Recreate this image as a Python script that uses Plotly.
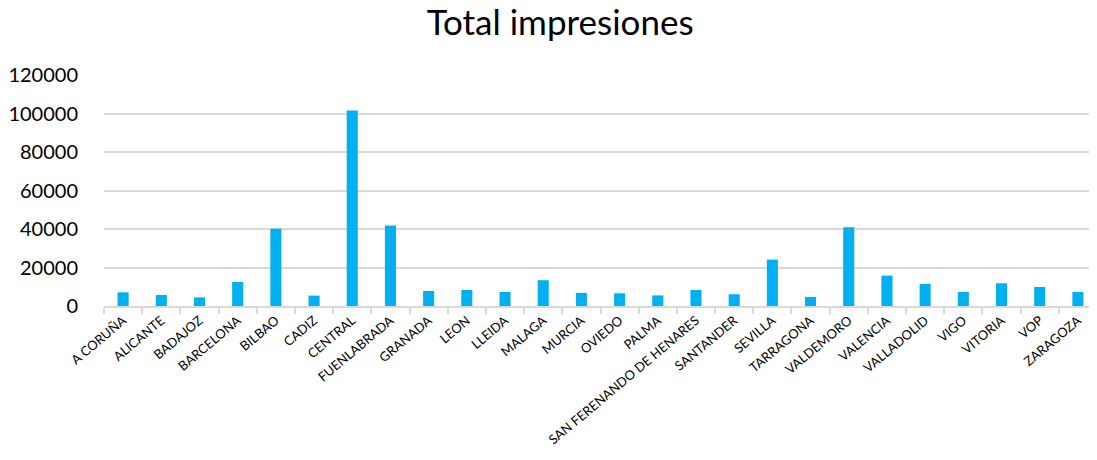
import plotly.graph_objects as go

categories = ["A CORUÑA", "ALICANTE", "BADAJOZ", "BARCELONA", "BILBAO", "CADIZ", "CENTRAL",
              "FUENLABRADA", "GRANADA", "LEON", "LLEIDA", "MALAGA", "MURCIA", "OVIEDO", "PALMA",
              "SAN FERENANDO DE HENARES", "SANTANDER", "SEVILLA", "TARRAGONA", "VALDEMORO",
              "VALENCIA", "VALLADOLID", "VIGO", "VITORIA", "VOP", "ZARAGOZA"]
impresiones = [7100, 5700, 4500, 12500, 40200, 5400, 101500,
               41800, 7800, 8300, 7300, 13400, 6800, 6600, 5500,
               8300, 6100, 24100, 4700, 40900,
               15800, 11500, 7300, 11800, 9900, 7300]
y_ticks = [0, 20000, 40000, 60000, 80000, 100000, 120000]

FONT = "Lato, 'Open Sans', sans-serif"

fig = go.Figure(go.Bar(x=categories, y=impresiones, marker=dict(color="#00B0F0", line=dict(width=0))))

# page body has an 8px margin: size the figure so it fills the 1097x460 window
fig.update_layout(
    width=1089, height=452,
    margin=dict(l=96, r=0, t=67, b=154),
    paper_bgcolor="white", plot_bgcolor="white",
    bargap=0.71,
    title=dict(text="Total impresiones", x=0.507, xanchor="center", y=0.967, yanchor="middle",
               font=dict(family=FONT, size=35, color="#000000")),
    font=dict(family=FONT, color="#000000"),
    showlegend=False,
)
fig.update_xaxes(
    automargin=False,
    tickangle=-40, tickfont=dict(size=13, color="#000000"),
    showline=True, linecolor="#D9D9D9", linewidth=2,
    ticks="outside", tickson="boundaries", ticklen=6, tickcolor="#D9D9D9", tickwidth=1.5,
    showgrid=False,
)
fig.update_yaxes(
    automargin=False,
    range=[0, 120000], tickvals=y_ticks, ticktext=[str(v) for v in y_ticks],
    tickfont=dict(size=20, color="#000000"),
    showgrid=True, gridcolor="#D9D9D9", gridwidth=2,
    zeroline=False, ticklabelstandoff=25,
)

fig.write_html("out.html")
